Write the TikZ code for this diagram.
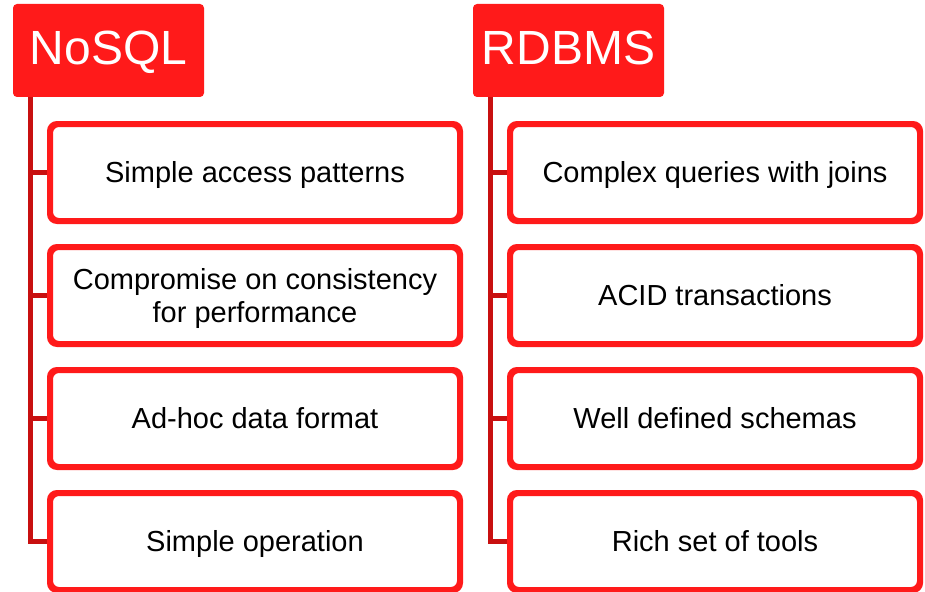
\documentclass[tikz,border=0pt]{standalone}
\usepackage{fontspec}
\setmainfont{Liberation Sans}
\definecolor{hdrred}{HTML}{FF1A1A}
\definecolor{spinered}{HTML}{C81010}
\begin{document}
\begin{tikzpicture}[x=1pt,y=-1pt,
  header/.style={fill=hdrred, rounded corners=4pt, inner sep=0pt,
    minimum width=191pt, minimum height=93pt, text=white,
    font=\fontsize{48}{50}\selectfont, text height=34.4pt, text depth=6pt},
  item/.style={draw=hdrred, line width=4pt, rounded corners=8pt, fill=white,
    minimum width=408pt, minimum height=95pt, inner sep=0pt, align=center,
    font=\fontsize{29}{33}\selectfont, text height=20.8pt, text depth=0pt},
  twoline/.style={text height=53.8pt},
  spine/.style={draw=spinered, line width=5pt}]
\useasboundingbox (0,0) rectangle (925,591);

% NoSQL column
\node[header] (nosql) at (108.5,50.5) {NoSQL};
\coordinate (spineL) at (30,97);
\node[item] (n1) at (255,172.5) {Simple access patterns};
\node[item, twoline] (n2) at (255,295.5) {Compromise on consistency\\for performance};
\node[item] (n3) at (255,418.5) {Ad-hoc data format};
\node[item] (n4) at (255,541.5) {Simple operation};

% RDBMS column
\node[header] (rdbms) at (568.5,50.5) {RDBMS};
\coordinate (spineR) at (490,97);
\node[item] (r1) at (715,172.5) {Complex queries with joins};
\node[item] (r2) at (715,295.5) {ACID transactions};
\node[item] (r3) at (715,418.5) {Well defined schemas};
\node[item] (r4) at (715,541.5) {Rich set of tools};

% connectors: a spine under each header with a branch to every item
\draw[spine] (spineL) |- (n4.west);
\foreach \b in {n1,n2,n3} \draw[spine] (spineL |- \b.west) -- (\b.west);
\draw[spine] (spineR) |- (r4.west);
\foreach \b in {r1,r2,r3} \draw[spine] (spineR |- \b.west) -- (\b.west);

% redraw item frames over the branch ends
\foreach \b in {n1,n2,n3,n4,r1,r2,r3,r4}
  \draw[hdrred, line width=4pt, rounded corners=8pt]
    (\b.south west) rectangle (\b.north east);
\end{tikzpicture}
\end{document}
